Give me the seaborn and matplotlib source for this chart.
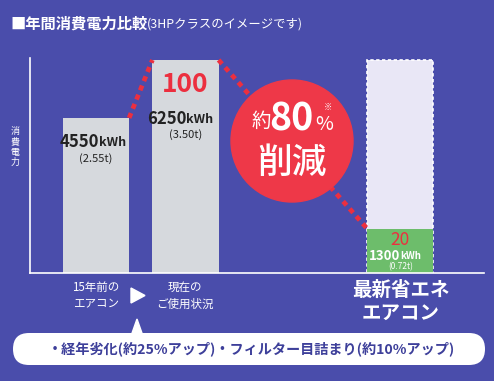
import seaborn as sns
import matplotlib.pyplot as plt
from matplotlib.patches import Circle, FancyBboxPatch, Polygon

# data
labels = ["15年前の\nエアコン", "現在の\nご使用状況", "最新省エネ\nエアコン"]
kwh = [4550, 6250, 1300]
co2 = ["(2.55t)", "(3.50t)", "(0.72t)"]
index_vals = [None, "100", "20"]
ghost_kwh = 6250
xpos = [0.0, 1.0, 3.4]   # layout positions of the three bars

BG = "#4a4dab"
GRAY = "#d6d9dd"
GREEN = "#6dbd6b"
RED = "#ec2f3f"
FONT = ["Noto Sans CJK JP", "DejaVu Sans"]

sns.set_theme(style="white")
plt.rcParams["font.family"] = FONT

fig = plt.figure(figsize=(4.94, 3.81), dpi=100, facecolor=BG)

# main chart axes: x 30..484 px, y 58..273 px
ax = fig.add_axes([30 / 494, (381 - 273) / 381, 454 / 494, 215 / 381])
ax.set_facecolor("none")

bw = 0.74
sns.barplot(x=xpos[:2], y=kwh[:2], native_scale=True, width=bw, color=GRAY,
            saturation=1, linewidth=0, ax=ax)
sns.barplot(x=[xpos[2]], y=[ghost_kwh], native_scale=True, width=bw, color="#e9e7f6",
            saturation=1, edgecolor="white", linewidth=1.2, linestyle=(0, (2, 1.5)), ax=ax)
sns.barplot(x=[xpos[2]], y=[kwh[2]], native_scale=True, width=bw, color=GREEN,
            saturation=1, linewidth=0, ax=ax)

ax.set_xlim(-0.737, 4.335)
ax.set_ylim(0, 6250 * 215 / 213)
ax.set_xticks([])
ax.set_yticks([])
ax.set_xlabel("")
ax.set_ylabel("")
for s in ["top", "right"]:
    ax.spines[s].set_visible(False)
for s in ["left", "bottom"]:
    ax.spines[s].set_color("white")
    ax.spines[s].set_linewidth(1.2)

# red dotted connectors between bar tops
dash = dict(color=RED, lw=3.4, linestyle=(0, (1.1, 1.0)), solid_capstyle="butt")
ax.plot([xpos[0] + bw / 2, xpos[1] - bw / 2], [kwh[0], kwh[1]], **dash)
ax.plot([xpos[1] + bw / 2, xpos[2] - bw / 2], [kwh[1], kwh[2]], **dash)

# labels inside bars
offs = [(24, 41, None), (59, 75, 25), (27, 38, 11)]
split = [3, 1, 0]
big = [12, 12, 9.5]
small = [9, 9, 7]
csize = [8, 8, 6]
for i in range(3):
    d_kwh, d_co2, d_idx = offs[i]
    col = "#222222" if i < 2 else "white"
    ax.annotate(str(kwh[i]), (xpos[i], kwh[i]), xytext=(split[i], -d_kwh),
                textcoords="offset pixels", ha="right", va="center",
                fontsize=big[i], fontweight="bold", color=col)
    ax.annotate("kWh", (xpos[i], kwh[i]), xytext=(split[i], -d_kwh - 0.5),
                textcoords="offset pixels", ha="left", va="center",
                fontsize=small[i], fontweight="bold", color=col)
    ax.annotate(co2[i], (xpos[i], kwh[i]), xytext=(0, -d_co2),
                textcoords="offset pixels", ha="center", va="center",
                fontsize=csize[i], color=col)
    if index_vals[i]:
        ax.annotate(index_vals[i], (xpos[i], kwh[i]), xytext=(0, -d_idx),
                    textcoords="offset pixels", ha="center", va="center",
                    fontsize=19 if i == 1 else 12.5,
                    fontweight="bold" if i == 1 else "normal", color=RED)

# overlay axes in pixel coordinates for the decorations
ov = fig.add_axes([0, 0, 1, 1])
ov.set_xlim(0, 494)
ov.set_ylim(381, 0)
ov.axis("off")
ov.set_facecolor("none")

ov.text(10, 24, "■年間消費電力比較", color="white", fontsize=11, fontweight="bold",
        ha="left", va="center")
ov.text(147, 24, "(3HPクラスのイメージです)", color="white", fontsize=8.9,
        ha="left", va="center")

ov.text(15, 147, "消\n費\n電\n力", color="white", fontsize=6.5, ha="center",
        va="center", linespacing=1.15)

ov.add_patch(Circle((292, 141), 61, color="#ee3848", zorder=3))
ov.text(261, 121, "約", color="white", fontsize=14, ha="center", va="center", zorder=4)
ov.text(291, 119, "80", color="white", fontsize=27, fontweight="bold", ha="center",
        va="center", zorder=4)
ov.text(324, 125, "%", color="white", fontsize=14, ha="center", va="center", zorder=4)
ov.text(328, 107, "※", color="white", fontsize=6, ha="center", va="center", zorder=4)
ov.text(292, 163, "削減", color="white", fontsize=25, fontweight="medium",
        ha="center", va="center", zorder=4)

# category labels under the axis
ov.text(96, 296, labels[0], color="white", fontsize=8.3, ha="center", va="center",
        linespacing=1.35)
ov.text(185, 296, labels[1], color="white", fontsize=8.3, ha="center", va="center",
        linespacing=1.35)
ov.text(401, 302, labels[2], color="white", fontsize=14, fontweight="bold",
        ha="center", va="center", linespacing=1.25)
ov.add_patch(Polygon([(131, 288), (131, 303), (145, 295.5)], color="white"))

# callout pill
ov.add_patch(FancyBboxPatch((13, 333), 472, 32, boxstyle="round,pad=0,rounding_size=16",
                            facecolor="white", edgecolor="none"))
ov.add_patch(Polygon([(131, 336), (143, 336), (137, 319)], color="white"))
ov.text(251, 349.5, "・経年劣化(約25%アップ)・フィルター目詰まり(約10%アップ)",
        color="#3d3f9a", fontsize=10.2, fontweight="bold", ha="center", va="center")

fig.savefig("out.png", dpi=100, facecolor=BG)
